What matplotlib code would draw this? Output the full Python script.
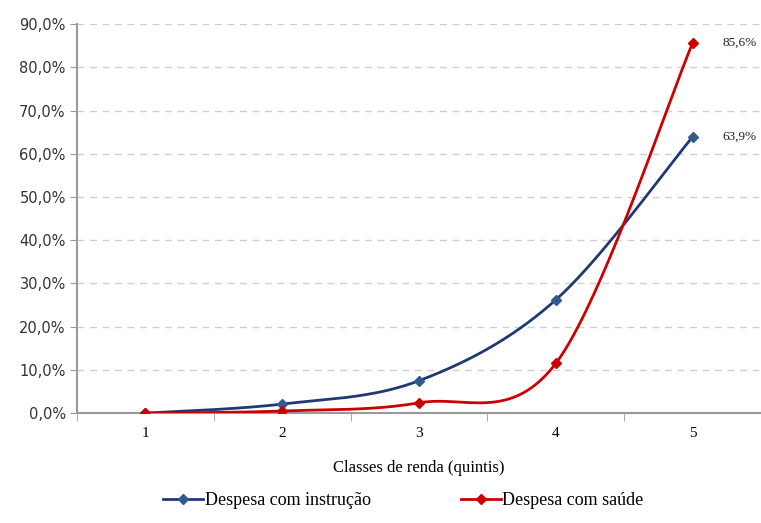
import numpy as np
import matplotlib
matplotlib.use("Agg")
import matplotlib.pyplot as plt
from matplotlib.ticker import FuncFormatter, FixedLocator

quintis = [1, 2, 3, 4, 5]
instrucao = [0.0, 2.1, 7.5, 26.2, 63.9]
saude = [0.0, 0.5, 2.4, 11.5, 85.6]


def smooth(xs, ys, n=40):
    # Excel-style smoothed line (cubic Bezier, tension 1/6)
    xs = np.asarray(xs, float)
    ys = np.asarray(ys, float)
    px, py = [], []
    for i in range(len(xs) - 1):
        x0, y0 = (xs[i - 1], ys[i - 1]) if i > 0 else (xs[i], ys[i])
        x3, y3 = (xs[i + 2], ys[i + 2]) if i + 2 < len(xs) else (xs[i + 1], ys[i + 1])
        c1x = xs[i] + (xs[i + 1] - x0) / 6
        c1y = ys[i] + (ys[i + 1] - y0) / 6
        c2x = xs[i + 1] - (x3 - xs[i]) / 6
        c2y = ys[i + 1] - (y3 - ys[i]) / 6
        t = np.linspace(0, 1, n)
        bx = (1 - t) ** 3 * xs[i] + 3 * (1 - t) ** 2 * t * c1x + 3 * (1 - t) * t ** 2 * c2x + t ** 3 * xs[i + 1]
        by = (1 - t) ** 3 * ys[i] + 3 * (1 - t) ** 2 * t * c1y + 3 * (1 - t) * t ** 2 * c2y + t ** 3 * ys[i + 1]
        px.extend(bx)
        py.extend(by)
    return np.array(px), np.array(py)


serif = "Liberation Serif"
blue = "#1F3A73"
blue_mk = "#2F5B8E"
red = "#CC0000"

fig = plt.figure(figsize=(7.61, 5.23), dpi=100)
ax = fig.add_axes([0.101, 0.21, 0.899, 0.744])

for ys, lc, mc, lab in [(instrucao, blue, blue_mk, "Despesa com instrução"),
                        (saude, red, red, "Despesa com saúde")]:
    sx, sy = smooth(quintis, ys)
    ax.plot(sx, sy, color=lc, lw=2, zorder=3)
    ax.plot(quintis, ys, ls="none", marker="D", ms=5.5, color=mc, zorder=4)
    ax.plot([], [], color=lc, lw=2, marker="D", ms=5, mfc=mc, mec=mc, label=lab)

ax.text(5.22, saude[-1], "85,6%", fontsize=9.5, family=serif, va="center", color="#222222")
ax.text(5.22, instrucao[-1], "63,9%", fontsize=9.5, family=serif, va="center", color="#222222")

ax.set_xlim(0.5, 5.5)
ax.set_ylim(0, 90)
ax.set_yticks(np.arange(0, 91, 10))
ax.yaxis.set_major_formatter(FuncFormatter(lambda v, p: f"{v:.1f}%".replace(".", ",")))
ax.set_xticks(quintis)
ax.xaxis.set_minor_locator(FixedLocator([0.5, 1.5, 2.5, 3.5, 4.5]))
ax.tick_params(axis="x", which="major", length=0, pad=10, labelsize=11)
ax.tick_params(axis="x", which="minor", length=6, color="#999999", direction="out")
ax.tick_params(axis="y", length=5, color="#999999", labelsize=10.5, labelcolor="#333333", pad=3)
for lbl in ax.get_xticklabels():
    lbl.set_family(serif)

ax.grid(axis="y", ls=(0, (5, 4)), color="#D0D0D0", lw=1)
ax.set_axisbelow(True)
for s in ["top", "right"]:
    ax.spines[s].set_visible(False)
ax.spines["left"].set_color("#999999")
ax.spines["bottom"].set_color("#999999")
ax.spines["left"].set_linewidth(1.5)
ax.spines["bottom"].set_linewidth(1.5)

ax.set_xlabel("Classes de renda (quintis)", family=serif, fontsize=12, labelpad=14)

fig.legend(loc="lower center", bbox_to_anchor=(0.53, -0.005), ncol=2, frameon=False,
           prop={"family": serif, "size": 13}, handlelength=2.2, handletextpad=0.1,
           columnspacing=5)

fig.savefig("out.png", dpi=100)
